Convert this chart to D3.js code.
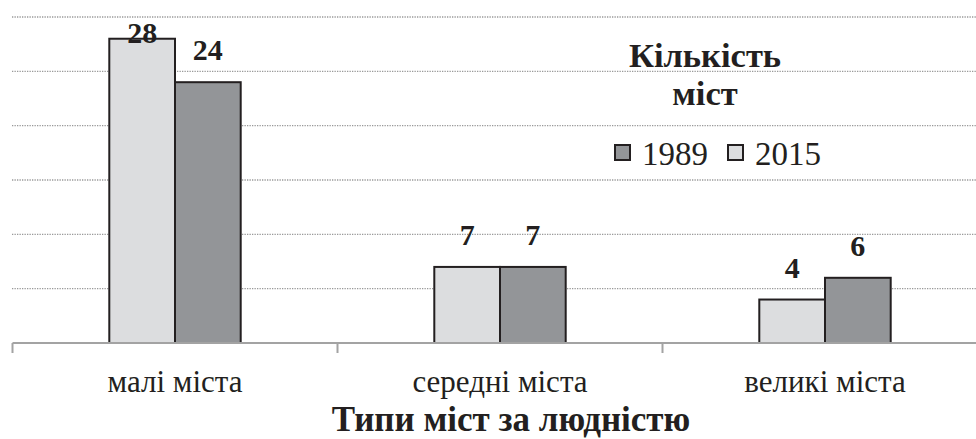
<!DOCTYPE html>
<html>
<head>
<meta charset="utf-8">
<script src="https://cdn.jsdelivr.net/npm/d3@7"></script>
<style>
  html, body { margin: 0; padding: 0; background: #fff; }
  svg { display: block; }
</style>
</head>
<body>
<div id="chart"></div>
<script>
// Дані
const categories = ["малі міста", "середні міста", "великі міста"];
const seriesNames = ["2015", "1989"];           // порядок стовпчиків у групі
const values2015 = [28, 7, 4];
const values1989 = [24, 7, 6];
const legendOrder = ["1989", "2015"];
const yTicks = [0, 5, 10, 15, 20, 25, 30];
const legendTitle = ["Кількість", "міст"];
const xTitle = "Типи міст за людністю";

const width = 976, height = 439;
const colors = { "2015": "#dcdddf", "1989": "#939598" };
const seriesValues = { "2015": values2015, "1989": values1989 };
const font = "'Liberation Serif', 'Times New Roman', serif";

const svg = d3.select("#chart").append("svg")
  .attr("width", width)
  .attr("height", height)
  .attr("font-family", font);

// Шкали
const x = d3.scaleBand()
  .domain(categories)
  .range([12.5, 987.5])
  .padding(0);

const barW = 65.7;
const xInner = d3.scaleBand()
  .domain(seriesNames)
  .range([x.bandwidth() / 2 - barW, x.bandwidth() / 2 + barW]);

const y = d3.scaleLinear()
  .domain([0, 30])
  .range([343, 17]);

// Сітка (пунктирна)
svg.append("g")
  .selectAll("line")
  .data(yTicks.filter(d => d > 0))
  .join("line")
  .attr("x1", 12)
  .attr("x2", width)
  .attr("y1", d => y(d))
  .attr("y2", d => y(d))
  .attr("stroke", "#999999")
  .attr("stroke-width", 1.3)
  .attr("stroke-dasharray", "1.3,1.2");

// Стовпчики
const groups = svg.append("g")
  .selectAll("g")
  .data(categories)
  .join("g")
  .attr("transform", d => `translate(${x(d)},0)`);

const barData = (c, i) => seriesNames.map(s => ({ s, v: seriesValues[s][i] }));

groups.selectAll("rect")
  .data((c, i) => barData(c, i))
  .join("rect")
  .attr("x", d => xInner(d.s))
  .attr("y", d => y(d.v))
  .attr("width", xInner.bandwidth())
  .attr("height", d => y(0) - y(d.v))
  .attr("fill", d => colors[d.s])
  .attr("stroke", "#231f20")
  .attr("stroke-width", 2);

// Вісь X
const xAxis = svg.append("g")
  .attr("transform", `translate(0,${y(0)})`)
  .call(d3.axisBottom(x).tickSize(0).tickFormat(""));
xAxis.select(".domain").remove();
xAxis.append("line")
  .attr("x1", 12.5).attr("x2", width)
  .attr("stroke", "#a3a3a3").attr("stroke-width", 2.2);
xAxis.selectAll("line.sep")
  .data([12.5, ...categories.map(c => x(c) + x.bandwidth())])
  .join("line")
  .attr("class", "sep")
  .attr("x1", d => d).attr("x2", d => d)
  .attr("y1", 0).attr("y2", 10)
  .attr("stroke", "#a3a3a3").attr("stroke-width", 2);

// Підписи категорій
svg.append("g")
  .selectAll("text")
  .data(categories)
  .join("text")
  .attr("x", d => x(d) + x.bandwidth() / 2)
  .attr("y", 392)
  .attr("text-anchor", "middle")
  .attr("font-size", 31)
  .attr("fill", "#231f20")
  .text(d => d);

// Підписи значень
groups.selectAll("text")
  .data((c, i) => barData(c, i))
  .join("text")
  .attr("x", d => xInner(d.s) + xInner.bandwidth() / 2)
  .attr("y", d => Math.max(y(d.v) - 22, 43))
  .attr("text-anchor", "middle")
  .attr("font-size", 30)
  .attr("font-weight", "bold")
  .attr("fill", "#231f20")
  .text(d => d.v);

// Назва осі X
svg.append("text")
  .attr("x", 511)
  .attr("y", 431)
  .attr("text-anchor", "middle")
  .attr("font-size", 35)
  .attr("font-weight", "bold")
  .attr("fill", "#231f20")
  .text(xTitle);

// Легенда
const legend = svg.append("g");
legend.selectAll("text.title")
  .data(legendTitle)
  .join("text")
  .attr("class", "title")
  .attr("x", 705)
  .attr("y", (d, i) => 67 + i * 38)
  .attr("text-anchor", "middle")
  .attr("font-size", 34.5)
  .attr("font-weight", "bold")
  .attr("fill", "#231f20")
  .text(d => d);

const legX = [614, 727];
const items = legend.selectAll("g.item")
  .data(legendOrder)
  .join("g")
  .attr("class", "item")
  .attr("transform", (d, i) => `translate(${legX[i]},0)`);
items.append("rect")
  .attr("x", 1).attr("y", 145)
  .attr("width", 15).attr("height", 15)
  .attr("fill", d => colors[d])
  .attr("stroke", "#231f20")
  .attr("stroke-width", 2);
items.append("text")
  .attr("x", 28)
  .attr("y", 165)
  .attr("font-size", 33)
  .attr("fill", "#231f20")
  .text(d => d);
</script>
</body>
</html>
